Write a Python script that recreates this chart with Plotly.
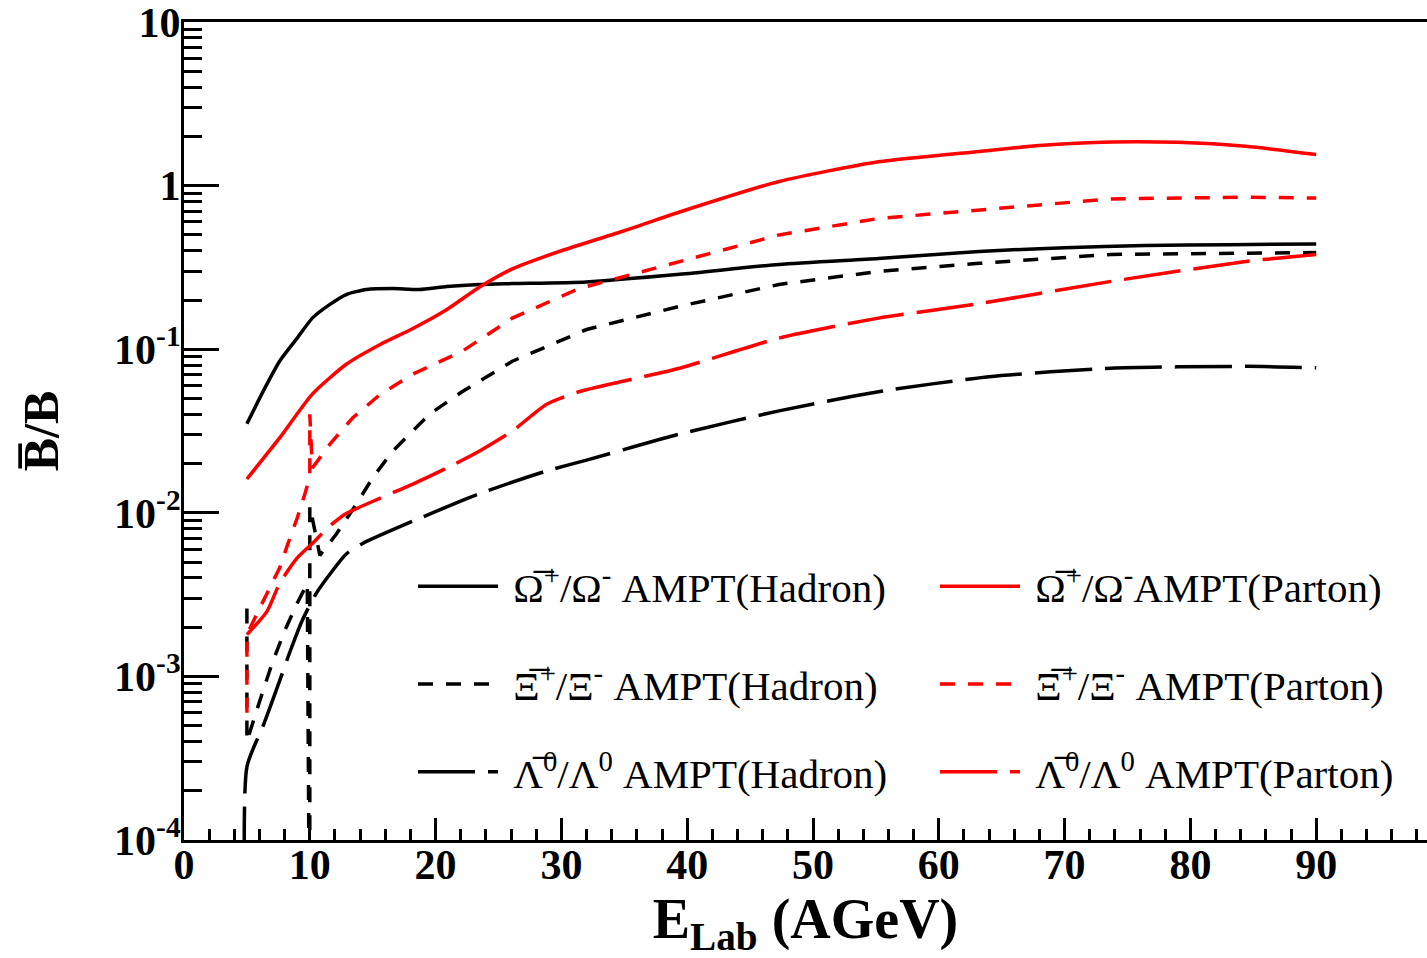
import plotly.graph_objects as go

# Antibaryon-to-baryon ratios vs beam energy, AMPT default (hadron) and string-melting (parton)
omega_had_x = [5, 6.3, 7.6, 9, 10.2, 11.6, 12.9, 14.5, 16.6, 18.7, 20.9, 23.5, 26.1, 32, 39.4, 47.3, 55.2, 63.2, 70, 76.4, 83, 90]
omega_had_y = [0.035, 0.0555, 0.0845, 0.117, 0.155, 0.188, 0.216, 0.232, 0.235, 0.232, 0.242, 0.249, 0.252, 0.258, 0.287, 0.33, 0.359, 0.396, 0.418, 0.43, 0.436, 0.44]

omega_par_x = [5, 7.6, 10.2, 12.9, 15.6, 18.2, 20.9, 23.5, 26.1, 30, 35, 39.4, 47.3, 55.2, 63.2, 68, 73.7, 79, 84.4, 90]
omega_par_y = [0.0161, 0.0287, 0.0532, 0.081, 0.107, 0.134, 0.175, 0.24, 0.31, 0.40, 0.53, 0.69, 1.06, 1.40, 1.62, 1.76, 1.85, 1.84, 1.74, 1.55]

xi_had_x = [5, 5, 6, 7, 8, 9, 9.8, 10, 10, 10.8, 12.1, 13.7, 15, 16.6, 19.5, 22.1, 26.1, 32, 39.4, 47.3, 55.2, 63.2, 73.7, 84.4, 90]
xi_had_y = [0.0026, 0.0004, 0.0007, 0.0012, 0.0019, 0.0028, 0.0037, 1e-5, 0.011, 0.0055, 0.0074, 0.0113, 0.0164, 0.0239, 0.040, 0.055, 0.0845, 0.132, 0.183, 0.249, 0.299, 0.335, 0.38, 0.386, 0.39]

xi_par_x = [5, 5, 6, 7, 7.6, 8.3, 9, 9.6, 10, 10, 10.2, 11.6, 13.4, 15.6, 18.2, 22.1, 26.1, 31.4, 39.4, 47.3, 55.2, 63.2, 73.7, 84.4, 90]
xi_par_y = [0.0006, 0.0018, 0.0026, 0.0037, 0.0046, 0.0066, 0.0093, 0.013, 0.0165, 0.04, 0.0188, 0.0263, 0.038, 0.053, 0.0705, 0.097, 0.155, 0.235, 0.344, 0.50, 0.63, 0.71, 0.83, 0.85, 0.84]

lambda_had_x = [5, 5, 6.3, 7.4, 8.4, 9.4, 10.6, 12.9, 14.2, 18.2, 23.5, 28.8, 32, 39.4, 47.3, 55.2, 64, 73.7, 84.4, 90]
lambda_had_y = [1e-5, 0.00028, 0.0005, 0.00085, 0.0014, 0.0022, 0.0033, 0.0056, 0.0065, 0.0089, 0.0131, 0.018, 0.021, 0.0303, 0.042, 0.055, 0.068, 0.0766, 0.0786, 0.077]

lambda_par_x = [5, 6.6, 7.6, 9, 10.2, 11.5, 12.9, 15.6, 18.2, 20.9, 23.5, 26.1, 28.8, 31.4, 35, 39.4, 47.3, 55.2, 63.2, 73.7, 84.4, 90]
lambda_par_y = [0.0018, 0.0025, 0.0037, 0.0053, 0.0065, 0.0082, 0.0099, 0.0123, 0.015, 0.0188, 0.0239, 0.0316, 0.046, 0.055, 0.064, 0.0766, 0.117, 0.155, 0.19, 0.26, 0.344, 0.38]

y_tickvals = [1e-4, 1e-3, 1e-2, 1e-1, 1, 10]
y_ticktext = ["10<sup>-4</sup>", "10<sup>-3</sup>", "10<sup>-2</sup>", "10<sup>-1</sup>", "1", "10"]
x_tickvals = [0, 10, 20, 30, 40, 50, 60, 70, 80, 90]

SERIF = "Liberation Serif"
RED = "#ff0000"
BLACK = "#000000"
SHORT = "15px,13px"
LONG = "57px,13px"
GAP = "\u00a0"

# (x, y, colour, dash, label, legend slot, line shape)
series = [
    (omega_had_x, omega_had_y, BLACK, "solid", "Ω̅<sup>+</sup>/Ω<sup>-</sup> AMPT(Hadron)", "legend", "spline"),
    (omega_par_x, omega_par_y, RED, "solid", "Ω̅<sup>+</sup>/Ω<sup>-</sup>AMPT(Parton)", "legend2", "spline"),
    (xi_had_x, xi_had_y, BLACK, SHORT, "Ξ̅<sup>+</sup>/Ξ<sup>-</sup> AMPT(Hadron)", "legend3", "linear"),
    (xi_par_x, xi_par_y, RED, SHORT, "Ξ̅<sup>+</sup>/Ξ<sup>-</sup> AMPT(Parton)", "legend4", "linear"),
    (lambda_had_x, lambda_had_y, BLACK, LONG, "Λ̅<sup>0</sup>/Λ<sup>0</sup> AMPT(Hadron)", "legend5", "spline"),
    (lambda_par_x, lambda_par_y, RED, LONG, "Λ̅<sup>0</sup>/Λ<sup>0</sup> AMPT(Parton)", "legend6", "spline"),
]

fig = go.Figure()
for xs, ys, col, dash, name, leg, shape in series:
    line = dict(color=col, width=3.5, dash=dash, shape=shape)
    if shape == "spline":
        line["smoothing"] = 0.6
    fig.add_trace(go.Scatter(
        x=xs, y=ys, mode="lines", name=GAP + name, legend=leg,
        line=line, cliponaxis=True,
    ))

# plot-area geometry (pixels)
L, R, T, B = 184, 0, 20, 118
W, H = 1427, 958
pw, ph = W - L - R, H - T - B


def px_x(px):
    return (px - L) / pw


def px_y(py):
    return (H - B - py) / ph


legend_font = dict(family=SERIF, size=41, color="black")
col_x = [px_x(413), px_x(935)]
row_y = [px_y(586), px_y(684), px_y(772)]
legend_layouts = {}
names = ["legend", "legend2", "legend3", "legend4", "legend5", "legend6"]
for i, nm in enumerate(names):
    legend_layouts[nm] = dict(
        x=col_x[i % 2], y=row_y[i // 2], xanchor="left", yanchor="middle",
        xref="paper", yref="paper",
        bgcolor="rgba(0,0,0,0)", borderwidth=0,
        font=legend_font, itemwidth=80, tracegroupgap=0,
    )

tick_font = dict(family=SERIF, size=42, color="black", weight="bold")

fig.update_layout(
    width=W, height=H,
    margin=dict(l=L, r=R, t=T, b=B, pad=0),
    paper_bgcolor="white", plot_bgcolor="white",
    showlegend=True,
    font=dict(family=SERIF, color="black"),
    xaxis=dict(
        range=[0, pw / 12.58],
        tickvals=x_tickvals,
        ticks="inside", ticklen=22, tickwidth=2.5, tickcolor="black",
        minor=dict(ticks="inside", ticklen=11, tickwidth=2.5, tickcolor="black", dtick=2, tick0=0, showgrid=False),
        showline=True, linecolor="black", linewidth=3, mirror=True,
        showgrid=False, zeroline=False,
        ticklabelstandoff=-14, ticklabeloverflow="allow",
        tickfont=tick_font,
        title=dict(text="E<sub>Lab</sub> (AGeV)", font=dict(family=SERIF, size=56, color="black", weight="bold"), standoff=26),
    ),
    yaxis=dict(
        type="log", range=[-4, 1.0005],
        tickvals=y_tickvals, ticktext=y_ticktext,
        ticks="inside", ticklen=35, tickwidth=2.5, tickcolor="black",
        minor=dict(ticks="inside", ticklen=18, tickwidth=2.5, tickcolor="black", dtick="D1", showgrid=False),
        showline=True, linecolor="black", linewidth=3, mirror=False,
        showgrid=False, zeroline=False,
        ticklabelstandoff=-8, ticklabeloverflow="allow",
        tickfont=tick_font,
        title=dict(text="B̅/B", font=dict(family=SERIF, size=50, color="black", weight="bold"), standoff=40),
    ),
    **legend_layouts,
)

fig.write_html("out.html")
